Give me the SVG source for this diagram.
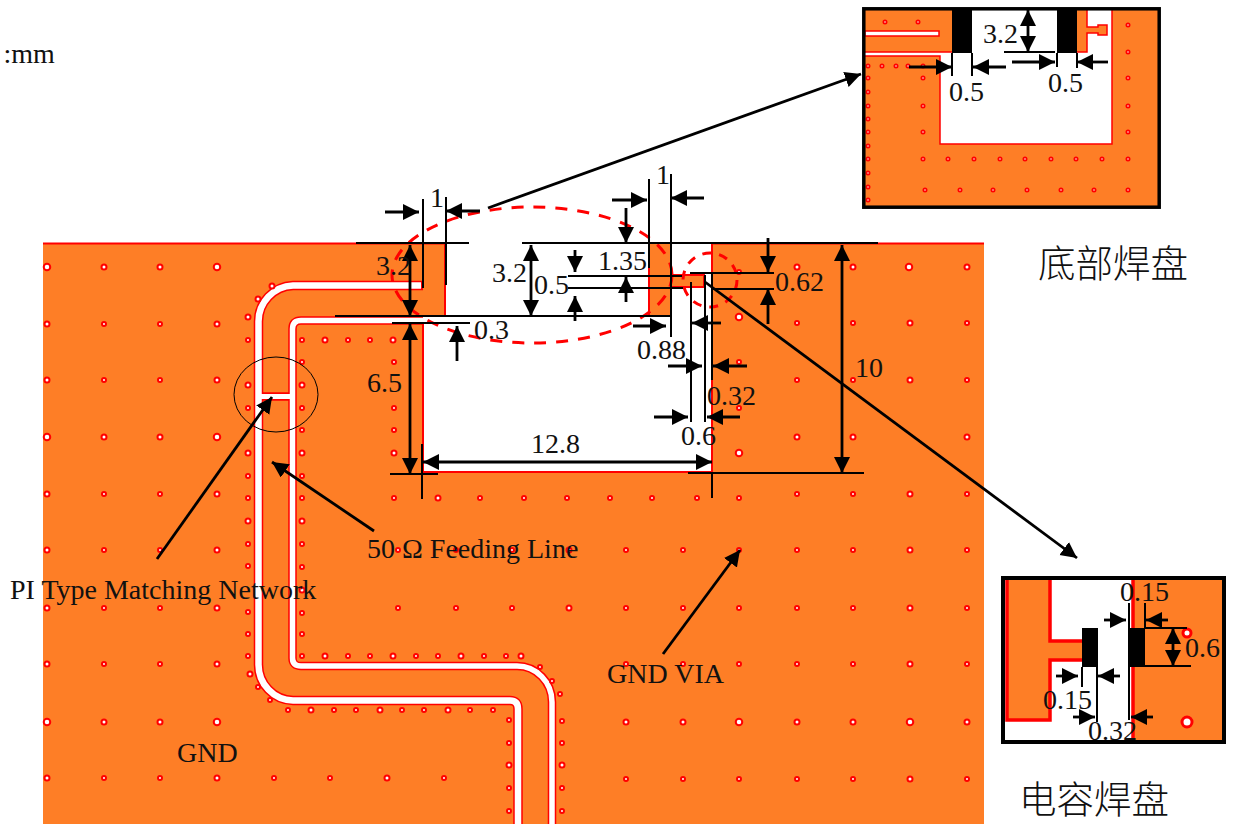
<svg xmlns="http://www.w3.org/2000/svg" width="1240" height="827" viewBox="0 0 1240 827">
<style>
text{font-family:"Liberation Serif","Times New Roman",serif;font-size:28px;fill:#111}
.cjk{font-family:"Noto Sans CJK SC",sans-serif;font-size:37.500px;font-weight:300}
.or{fill:#fe7e26}
.red{fill:none;stroke:#f00;stroke-width:2}
.redw{fill:none;stroke:#f00;stroke-width:3.500}
.sr{fill:none;stroke:#f00;stroke-width:8.500}
.sw{fill:none;stroke:#fff;stroke-width:5.500}
.dash{fill:none;stroke:#f00;stroke-width:3;stroke-dasharray:12 10}
.l{fill:none;stroke:#000;stroke-width:2}
.a{fill:none;stroke:#000;stroke-width:2.800;marker-end:url(#ah)}
.d{fill:none;stroke:#000;stroke-width:2.800;marker-end:url(#ah);marker-start:url(#ah)}
.vs,.vm,.vb,.vi{fill:none;stroke-linecap:round}
.vs{stroke:#f00;stroke-width:6}.vsw{fill:none;stroke-linecap:round;stroke:#fff;stroke-width:2}
.vm{stroke:#f00;stroke-width:7}.vmw{fill:none;stroke-linecap:round;stroke:#fff;stroke-width:3}
.vb{stroke:#f00;stroke-width:8.500}.vbw{fill:none;stroke-linecap:round;stroke:#fff;stroke-width:4.500}
.vi{stroke:#f00;stroke-width:5}.viw{fill:none;stroke-linecap:round;stroke:#fff;stroke-width:1.500}
</style>
<defs>
<marker id="ah" markerUnits="userSpaceOnUse" markerWidth="18" markerHeight="18" refX="16" refY="8" orient="auto-start-reverse"><path d="M0 0L16 8L0 16z" fill="#000"/></marker>
<path id="ps" d="M160 324h0M104 324h0M104 380h0M160 380h0M104 494h0M160 494h0M104 550h0M160 550h0M104 608h0M160 608h0M104 664h0M160 664h0M104 778h0M160 778h0M248 340h0M248 408h0M248 476h0M248 498h0M248 544h0M248 566h0M248 612h0M248 634h0M248 656h0M258 687h0M270 700h0M288 710h0M334 710h0M356 710h0M402 710h0M424 710h0M470 710h0M493 710h0M509 720h0M509 743h0M509 788h0M509 811h0M302 656h0M348 656h0M370 656h0M416 656h0M438 656h0M484 656h0M506 656h0M540 667h0M552 681h0M560 694h0M562 721h0M562 743h0M562 788h0M562 811h0M302 340h0M348 340h0M370 340h0M302 362h0M302 408h0M302 430h0M394 362h0M394 408h0M394 430h0M302 476h0M302 498h0M302 544h0M302 567h0M302 613h0M302 634h0M394 498h0M480 498h0M524 498h0M567 498h0M610 498h0M652 498h0M697 498h0M398 550h0M456 550h0M512 550h0M398 608h0M456 608h0M512 608h0M274 778h0M330 778h0M444 778h0M626 550h0M683 550h0M626 608h0M683 608h0M739 550h0M739 608h0M739 664h0M626 664h0M683 664h0M626 779h0M683 779h0M739 779h0M797 494h0M853 494h0M967 494h0M797 550h0M853 550h0M967 550h0M797 608h0M853 608h0M967 608h0M797 664h0M853 664h0M967 664h0M797 779h0M853 779h0M967 779h0M739 272h0M739 362h0M739 408h0M797 323h0M853 323h0M967 323h0M797 380h0M853 380h0M967 380h0M739 498h0"/>
<path id="pm" d="M104 267h0M160 267h0M47 324h0M217 324h0M47 380h0M217 380h0M104 437h0M160 437h0M47 494h0M217 494h0M47 550h0M217 550h0M47 608h0M217 608h0M47 664h0M217 664h0M104 722h0M160 722h0M47 778h0M217 778h0M248 317h0M248 385h0M248 453h0M248 521h0M250 674h0M272 286h0M258 299h0M311 710h0M380 710h0M448 710h0M509 765h0M325 656h0M393 656h0M461 656h0M521 656h0M562 765h0M325 340h0M393 340h0M302 385h0M302 453h0M394 453h0M302 521h0M302 590h0M438 498h0M569 608h0M387 778h0M569 550h0M797 267h0M853 267h0M967 267h0M910 323h0M910 380h0M797 437h0M853 437h0M967 437h0M910 494h0M910 550h0M910 608h0M910 664h0M910 779h0M626 722h0M683 722h0M797 722h0M853 722h0M967 722h0"/>
<path id="pb" d="M47 267h0M217 267h0M47 437h0M217 437h0M47 722h0M217 722h0M909 267h0M739 317h0M739 453h0M739 722h0M910 722h0"/>
<path id="pi" d="M885 22h0M918 22h0M868 66h0M882 66h0M896 66h0M908 66h0M923 66h0M868 78h0M868 92h0M868 106h0M868 119h0M868 132h0M868 146h0M868 159h0M868 173h0M868 187h0M868 200h0M923 78h0M923 106h0M923 132h0M923 159h0M948 159h0M974 159h0M1000 159h0M1025 159h0M1051 159h0M1076 159h0M1102 159h0M1128 159h0M925 190h0M960 190h0M993 190h0M1027 190h0M1061 190h0M1094 190h0M1128 190h0M1128 25h0M1128 52h0M1128 78h0M1128 106h0M1128 132h0"/>
</defs>

<g id="board">
<rect class="or" x="43" y="243" width="941" height="581"/>
<path d="M445 243H649V316H671V243H712V472H423V316H445z" fill="#fff"/>
<path class="or" d="M671 275H704V287H671z"/>
<path class="red" d="M43 243.500H445V316H423M423 324V472H712V243.500H984M649 243V316H671M671 275H704V287H671"/>
</g>
<g id="feed-line">
<path class="sr" d="M423 320.500H301Q292.500 320.500 292.500 329V658Q292.500 666 301 666H517A35 36 0 0 1 552 702V824"/>
<path class="sr" d="M423 285.500H293A36 36 0 0 0 258.500 322V664A35 36 0 0 0 293 700.500H510Q518 700.500 518 709V824" style="stroke-width:9.500"/>
<path class="sr" d="M259 396.500H293"/>
<path class="sw" d="M424 320.500H301Q292.500 320.500 292.500 329V658Q292.500 666 301 666H517A35 36 0 0 1 552 702V824"/>
<path class="sw" d="M421 285.500H293A36 36 0 0 0 258.500 322V664A35 36 0 0 0 293 700.500H510Q518 700.500 518 709V824" style="stroke-width:6.500"/>
<path class="sw" d="M259 396.500H293" style="stroke-width:5"/>
</g>
<g id="vias">
<use href="#ps" class="vs"/><use href="#ps" class="vsw"/>
<use href="#pm" class="vm"/><use href="#pm" class="vmw"/>
<use href="#pb" class="vb"/><use href="#pb" class="vbw"/>
</g>

<g id="inset-bottom-pad">
<rect class="or" x="864" y="9" width="295" height="198"/>
<path d="M972 9H1112V144H940V56H865V52H972z" fill="#fff"/>
<path class="or" d="M1077 9H1087V27H1098V25H1107V35H1098V33H1087V52H1077z"/>
<path class="red" style="stroke-width:1.500" d="M1112 9V144H940V56H865M865 52H952M1077 52H1087V33H1098V35H1107V25H1098V27H1087V9"/>
<rect x="865" y="31" width="74" height="5" fill="#fff" stroke="#f00" stroke-width="1.500"/>
<use href="#pi" class="vi"/><use href="#pi" class="viw"/>
<rect x="952" y="9" width="20" height="44" fill="#000"/>
<rect x="1057" y="9" width="20" height="44" fill="#000"/>
<rect x="863.800" y="8.800" width="295.400" height="198.400" fill="none" stroke="#000" stroke-width="3.500"/>
</g>
<g id="inset-capacitor-pad">
<rect x="1003" y="578" width="221" height="164" fill="#fff"/>
<path class="or" d="M1007 578H1050V641H1082V660H1050V720H1007z"/>
<rect class="or" x="1133" y="578" width="91" height="164"/>
<path class="redw" d="M1007 578V720H1050V660H1082M1082 641H1050V578M1133 578V742"/>
<circle cx="1187" cy="633" r="4" fill="#fff" stroke="#f00" stroke-width="3"/>
<circle cx="1187" cy="722" r="5" fill="#fff" stroke="#f00" stroke-width="3"/>
<rect x="1082" y="628" width="16" height="39" fill="#000"/>
<rect x="1129" y="628" width="16" height="39" fill="#000"/>
<rect x="1003" y="578" width="221" height="164" fill="none" stroke="#000" stroke-width="4"/>
</g>

<g id="connectors">
<ellipse class="dash" cx="532" cy="275" rx="140" ry="68"/>
<circle class="dash" cx="710" cy="280" r="27" style="stroke-dasharray:9 8"/>
<ellipse cx="276" cy="394.500" rx="42" ry="37.500" fill="none" stroke="#000" stroke-width="1"/>
<path class="l" d="M423 199V288M446 197V285M356 243H469M522 243H878M335 316H670M392 323H470M390 474H438M422 444V499M568 276H682M568 288H683M690 273H774M712 289H774M649 179V268M671 174V337M691 282V422M705 275V422M712 273V380M712 472V498M688 473H864"/>
<path class="a" d="M385 212H419"/><path class="a" d="M480 211H446"/>
<path class="d" d="M410 245V316"/><path class="d" d="M410 324V474"/>
<path class="a" d="M457 361V326"/>
<path class="d" d="M531 245V316"/>
<path class="a" d="M575 250V272"/><path class="a" d="M575 321V296"/>
<path class="a" d="M626 208V243"/><path class="a" d="M626 302V277"/>
<path class="a" d="M612 200H647"/><path class="a" d="M704 198H671"/>
<path class="a" d="M768 238V272"/><path class="a" d="M768 324V289"/>
<path class="d" d="M842 245V473"/>
<path class="a" d="M721 323H692"/><path class="a" d="M633 326H666"/>
<path class="a" d="M668 366H702"/><path class="a" d="M747 366H713"/>
<path class="a" d="M654 417H688"/><path class="a" d="M740 417H707"/>
<path class="d" d="M423 462H712"/>
<path class="a" d="M488 208L861 74"/>
<path class="a" d="M705 282L1077 558"/>
<path class="a" d="M157 559L272 397"/>
<path class="a" d="M374 531L272 462"/>
<path class="a" d="M663 654L740 550"/>
<path class="l" d="M952 53V76M972 53V76M1057 53V67M1077 53V68M1004 52H1055"/>
<path class="d" d="M1028 10V52"/>
<path class="a" d="M909 67H952"/><path class="a" d="M1006 67H973"/>
<path class="a" d="M1012 62H1055"/><path class="a" d="M1108 62H1077"/>
<path class="l" d="M1082 667V687M1097 667V722M1129 603V720M1145 603V628M1145 628H1187M1129 666H1191"/>
<path class="d" d="M1173 628V666"/>
<path class="a" d="M1104 620H1126"/><path class="a" d="M1168 620H1146"/>
<path class="a" d="M1056 676H1078"/><path class="a" d="M1120 676H1098"/>
<path class="a" d="M1073 717H1095"/><path class="a" d="M1153 717H1131"/>
</g>

<g id="labels">
<text x="3.500" y="63">:mm</text>
<text x="430" y="207">1</text>
<text x="656" y="184">1</text>
<text x="376" y="275">3.2</text>
<text x="492" y="282">3.2</text>
<text x="534" y="294">0.5</text>
<text x="598" y="270">1.35</text>
<text x="775" y="291">0.62</text>
<text x="474" y="339">0.3</text>
<text x="637" y="359">0.88</text>
<text x="707" y="405">0.32</text>
<text x="681" y="445">0.6</text>
<text x="855" y="377">10</text>
<text x="367" y="392">6.5</text>
<text x="531" y="453">12.8</text>
<text x="10" y="599">PI Type Matching Network</text>
<text x="367" y="558">50 Ω Feeding Line</text>
<text x="607" y="683">GND VIA</text>
<text x="177" y="762">GND</text>
<text x="983" y="43">3.2</text>
<text x="949" y="101">0.5</text>
<text x="1048" y="92">0.5</text>
<text x="1120" y="601">0.15</text>
<text x="1185" y="657">0.6</text>
<text x="1043" y="709">0.15</text>
<text x="1088" y="740">0.32</text>
<text class="cjk" x="1038" y="277">底部焊盘</text>
<text class="cjk" x="1019" y="813">电容焊盘</text>
</g>
</svg>
